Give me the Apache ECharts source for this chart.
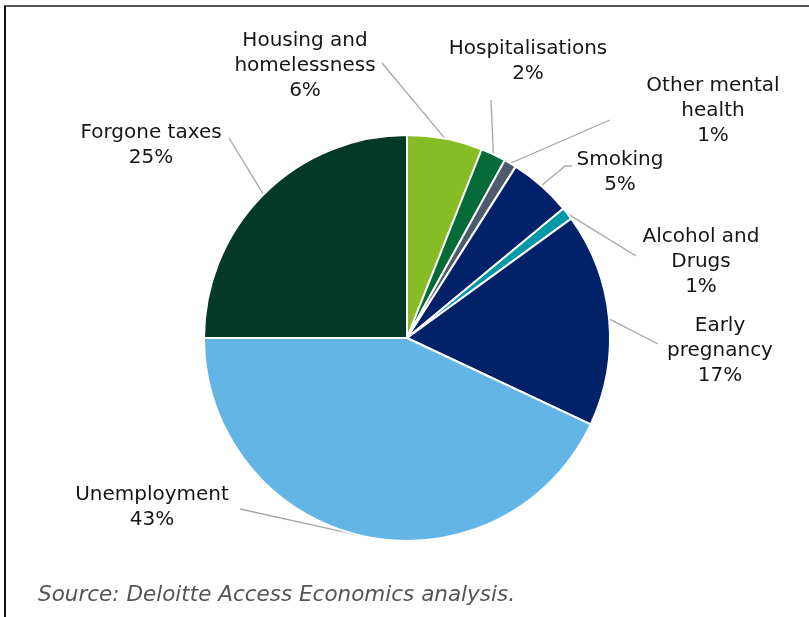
<!DOCTYPE html>
<html>
<head>
<meta charset="utf-8">
<script src="https://cdn.jsdelivr.net/npm/echarts@6/dist/echarts.min.js"></script>
<style>
  html, body { margin: 0; padding: 0; background: #fff; }
  #chart { width: 809px; height: 617px; }
</style>
</head>
<body>
<div id="chart"></div>
<script>
// Cost components (share of total, %), clockwise from 12 o'clock
const categories = [
  'Housing and\nhomelessness',
  'Hospitalisations',
  'Other mental\nhealth',
  'Smoking',
  'Alcohol and\nDrugs',
  'Early\npregnancy',
  'Unemployment',
  'Forgone taxes'
];
const shares = [6, 2, 1, 5, 1, 17, 43, 25];
const sliceColors = [
  '#86BC25', '#046A38', '#4E5B6C', '#012169',
  '#0097A9', '#012169', '#62B5E5', '#043927'
];
const sourceNote = 'Source: Deloitte Access Economics analysis.';

// Label placement (text centre) and where each leader line meets its label
const labelCentres = [
  [305, 66], [528, 61], [713, 111], [620, 172],
  [701, 262], [720, 351], [152, 507], [151, 145]
];
const leaderEnds = [
  [[382, 63]], [[491, 100]], [[610, 120]], [[565, 166], [572, 166]],
  [[636, 256]], [[658, 344]], [[240, 509]], [[229, 138]]
];

const PIE_CX = 407, PIE_CY = 338, PIE_R = 203;
const total = shares.reduce((a, b) => a + b, 0);

// Outer-edge point at the middle of slice i (clockwise from top)
function edgePoint(i) {
  let before = 0;
  for (let k = 0; k < i; k++) before += shares[k];
  const mid = (before + shares[i] / 2) / total * Math.PI * 2;
  return [PIE_CX + PIE_R * Math.sin(mid), PIE_CY - PIE_R * Math.cos(mid)];
}

const chart = echarts.init(document.getElementById('chart'), null, { renderer: 'canvas' });

chart.setOption({
  backgroundColor: '#ffffff',
  animation: false,
  graphic: [
    { type: 'line', shape: { x1: 4, y1: 6, x2: 809, y2: 6 }, style: { stroke: '#555', lineWidth: 2 } },
    { type: 'line', shape: { x1: 5, y1: 6, x2: 5, y2: 617 }, style: { stroke: '#111', lineWidth: 2 } },
    {
      type: 'text', left: 38, top: 584,
      style: {
        text: sourceNote,
        fill: '#555555',
        font: 'italic 21.5px "DejaVu Sans"'
      }
    }
  ],
  series: [{
    type: 'pie',
    center: [PIE_CX, PIE_CY],
    radius: PIE_R,
    startAngle: 90,
    clockwise: true,
    avoidLabelOverlap: false,
    itemStyle: { borderColor: '#ffffff', borderWidth: 2 },
    emphasis: { disabled: true },
    data: categories.map((name, i) => ({
      name: name,
      value: shares[i],
      itemStyle: { color: sliceColors[i] }
    })),
    label: {
      show: true,
      position: 'outer',
      formatter: p => p.name + '\n' + p.value + '%',
      fontFamily: '"DejaVu Sans", Verdana, sans-serif',
      fontSize: 20,
      lineHeight: 25,
      color: '#161616',
      align: 'center'
    },
    labelLine: {
      show: true,
      lineStyle: { color: '#a6a6a6', width: 1.3 }
    },
    labelLayout: function (params) {
      const i = params.dataIndex;
      const start = edgePoint(i);
      return {
        x: labelCentres[i][0],
        y: labelCentres[i][1],
        align: 'center',
        verticalAlign: 'middle',
        labelLinePoints: [start].concat(leaderEnds[i])
      };
    }
  }]
});
</script>
</body>
</html>
